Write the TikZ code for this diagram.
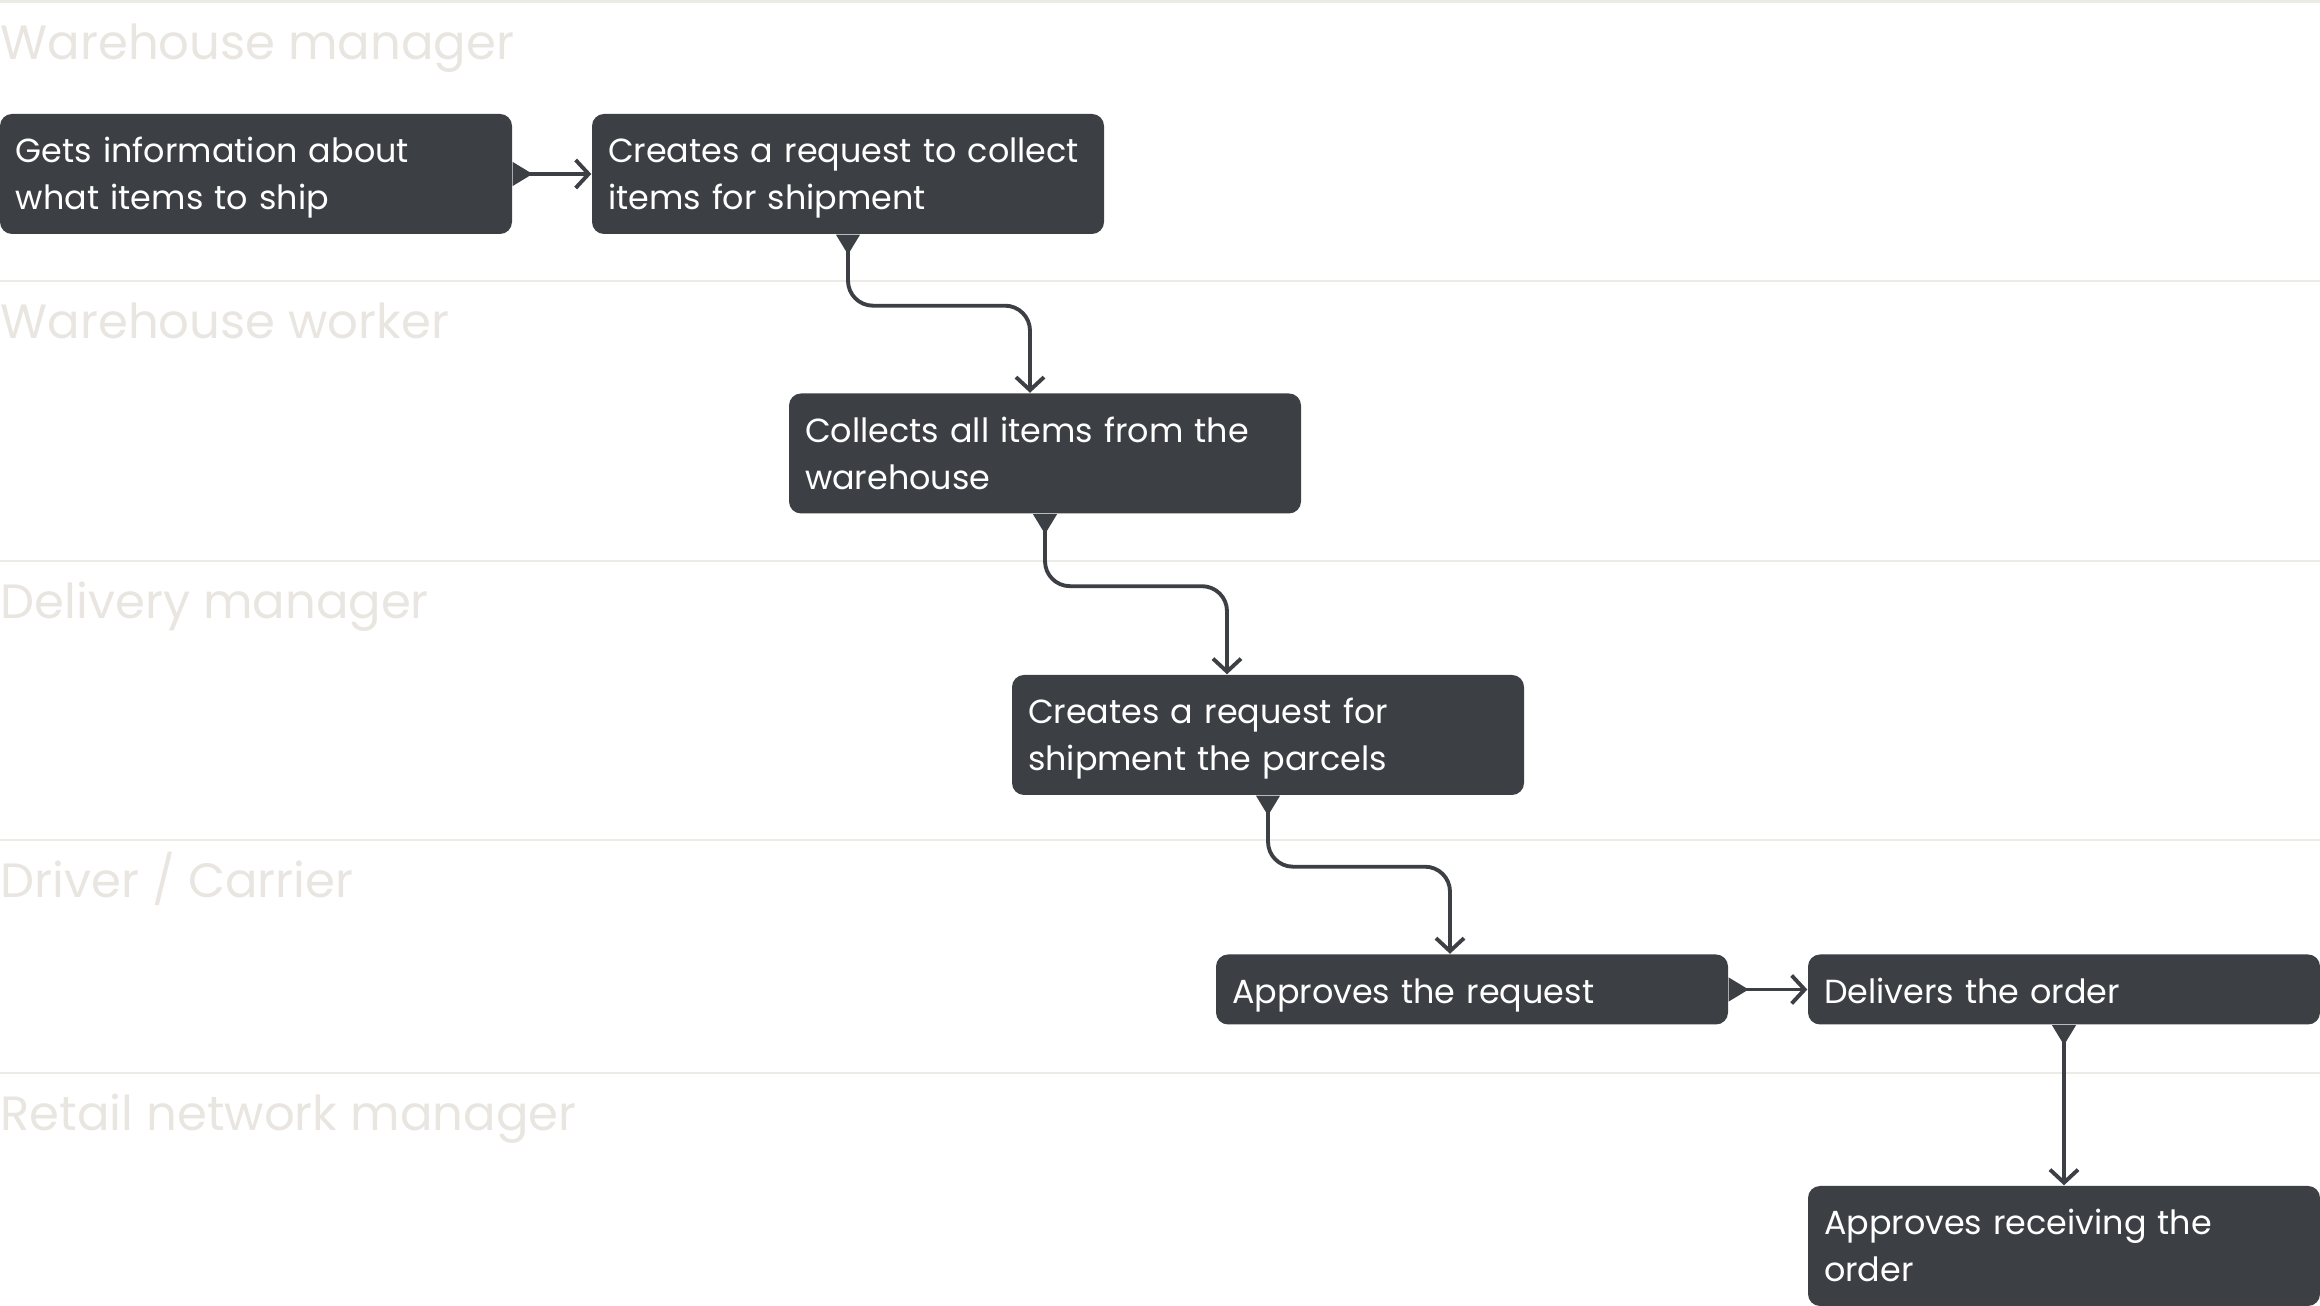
\documentclass[tikz,border=0pt]{standalone}
\usepackage{fontspec}
\setmainfont{Poppins}
\usetikzlibrary{arrows.meta}
\pgfdeclarelayer{bg}
\pgfsetlayers{bg,main}
\definecolor{taskfill}{HTML}{3C3F44}
\definecolor{lanetext}{HTML}{E9E6E1}
\definecolor{laneline}{HTML}{ECEBE6}
\tikzset{
    task/.style={draw=none, fill=taskfill, rounded corners=0.12cm, text=white,
        text width=4.8cm, align=left, inner xsep=0.16cm, inner ysep=0pt,
        minimum width=5.12cm, font=\fontsize{9.5}{13.45}\selectfont},
    oneline/.style={task, minimum height=0.70cm, text height=0.30cm, text depth=0.026cm},
    twoline/.style={task, minimum height=1.2cm, text height=0.30cm, text depth=0.526cm},
    lane/.style={anchor=base west, inner sep=0pt, text=lanetext,
        font=\fontsize{13.7}{16}\selectfont},
    lanesep/.style={draw=laneline, line width=0.8pt},
    flow/.style={draw=taskfill, line width=1.1pt, rounded corners=0.25cm,
        {Triangle[reversed, width=0.23cm, length=0.2cm]}-{Straight Barb[length=0.13cm, width=0.28cm]}}
}

\begin{document}
\begin{tikzpicture}
    \useasboundingbox (0cm, 0cm) rectangle (23.2cm, -13.06cm);

    \begin{pgfonlayer}{bg}
        \draw [lanesep] (0cm, -0.015cm) -- (23.2cm, -0.015cm);
        \draw [lanesep] (0cm, -2.81cm) -- (23.2cm, -2.81cm);
        \draw [lanesep] (0cm, -5.61cm) -- (23.2cm, -5.61cm);
        \draw [lanesep] (0cm, -8.40cm) -- (23.2cm, -8.40cm);
        \draw [lanesep] (0cm, -10.73cm) -- (23.2cm, -10.73cm);
    \end{pgfonlayer}

    \node (lane1) [lane] at (0cm, -0.595cm) {Warehouse manager};
    \node (lane2) [lane] at (0cm, -3.39cm) {Warehouse worker};
    \node (lane3) [lane] at (0cm, -6.19cm) {Delivery manager};
    \node (lane4) [lane] at (0cm, -8.98cm) {Driver / Carrier};
    \node (lane5) [lane] at (0cm, -11.31cm) {Retail network manager};

    \node (getinfo) [twoline] at (2.56cm, -1.74cm) {Gets information about\\what items to ship};
    \node (collectreq) [twoline] at (8.48cm, -1.74cm) {Creates a request to collect\\items for shipment};
    \node (collect) [twoline] at (10.45cm, -4.535cm) {Collects all items from the\\warehouse};
    \node (shipreq) [twoline] at (12.68cm, -7.35cm) {Creates a request for\\shipment the parcels};
    \node (approve) [oneline] at (14.72cm, -9.895cm) {Approves the request};
    \node (deliver) [oneline] at (20.64cm, -9.895cm) {Delivers the order};
    \node (receive) [twoline] at (20.64cm, -12.46cm) {Approves receiving the\\order};

    \draw [flow] (getinfo.east) -- (collectreq.west);
    \draw [flow] (collectreq.south) -- ++(0cm, -0.71cm) -| ([xshift=-0.15cm]collect.north);
    \draw [flow] (collect.south) -- ++(0cm, -0.72cm) -| ([xshift=-0.41cm]shipreq.north);
    \draw [flow] (shipreq.south) -- ++(0cm, -0.71cm) -| ([xshift=-0.22cm]approve.north);
    \draw [flow] (approve.east) -- (deliver.west);
    \draw [flow] (deliver.south) -- (receive.north);
\end{tikzpicture}
\end{document}
